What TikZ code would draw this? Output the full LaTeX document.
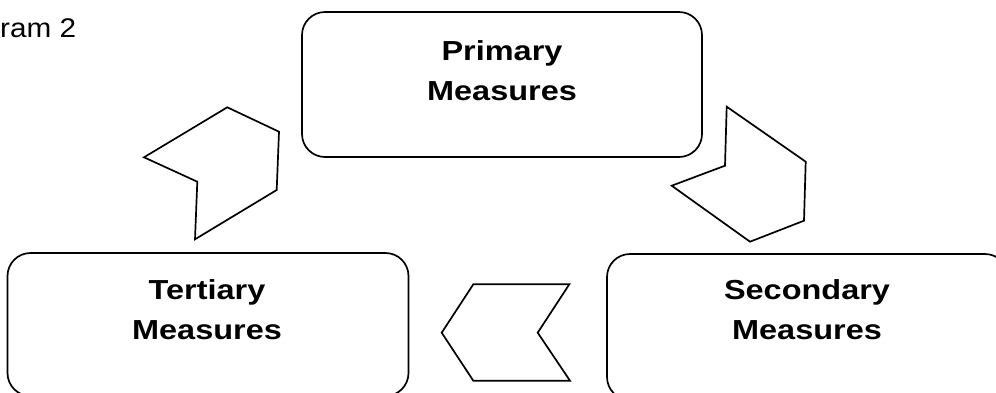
\documentclass[tikz,border=0pt]{standalone}
\usepackage{fontspec}
\newfontfamily\lblfont[FakeStretch=1.18]{Liberation Sans}
\newfontfamily\capfont[FakeStretch=1.1]{Liberation Sans}
\begin{document}
\begin{tikzpicture}[x=1pt,y=-1pt,
  frame/.style={draw=black,line width=1.7pt,rounded corners=23pt,
    inner sep=0pt,minimum width=#1},
  chev/.style={draw=black,line width=1.7pt,line join=miter},
  lbl/.style={font=\lblfont\fontsize{27.5}{40}\selectfont\bfseries,
    align=center,anchor=base,inner sep=0pt},
  captext/.style={font=\capfont\fontsize{27}{40}\selectfont,
    anchor=base west,inner sep=0pt}]
\useasboundingbox (0,0) rectangle (996,392);
\clip (0,0) rectangle (996,392);

% three rounded boxes of the cycle
\node[frame=400pt,minimum height=145pt] (prim) at (502,84.5) {};
\node[frame=401pt,minimum height=143pt] (tert) at (208,324.5) {};
\node[frame=401pt,minimum height=146pt] (sec) at (807.5,327) {};

% labels (anchored at the baseline of the second line)
\node[lbl] (primtxt) at (502,100) {Primary\\Measures};
\node[lbl] (terttxt) at (207,339) {Tertiary\\Measures};
\node[lbl] (sectxt) at (807,339) {Secondary\\Measures};

% caption, cut at the left border
\node[captext] (caption) at (0,37) {ram 2};

% block arrows between the boxes
\draw[chev] (227.3,107.3) -- (279,131.7) -- (276.7,190) -- (195,239.3)
  -- (197.3,181.7) -- (144,157.3) -- cycle;
\draw[chev] (726.7,106.7) -- (805.7,161.7) -- (804,220.7) -- (750,241.7)
  -- (671.7,185.7) -- (725,165.7) -- cycle;
\draw[chev] (473.3,284.3) -- (569.3,284.3) -- (537.7,332.7) -- (570,380.7)
  -- (473.3,380.7) -- (441.7,332.7) -- cycle;
\end{tikzpicture}
\end{document}
